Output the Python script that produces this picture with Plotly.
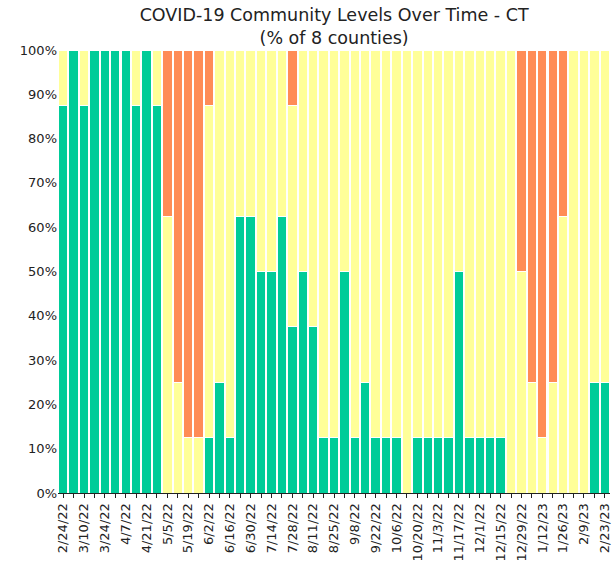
import plotly.graph_objects as go

dates = ["2/24/22","3/3/22","3/10/22","3/17/22","3/24/22","3/31/22","4/7/22","4/14/22","4/21/22","4/28/22",
         "5/5/22","5/12/22","5/19/22","5/26/22","6/2/22","6/9/22","6/16/22","6/23/22","6/30/22","7/7/22",
         "7/14/22","7/21/22","7/28/22","8/4/22","8/11/22","8/18/22","8/25/22","9/1/22","9/8/22","9/15/22",
         "9/22/22","9/29/22","10/6/22","10/13/22","10/20/22","10/27/22","11/3/22","11/10/22","11/17/22","11/24/22",
         "12/1/22","12/8/22","12/15/22","12/22/22","12/29/22","1/5/23","1/12/23","1/19/23","1/26/23","2/2/23",
         "2/9/23","2/16/23","2/23/23"]

n_counties = 8
# number of counties in each level
low = [7,8,7,8,8,8,8,7,8,7,
       0,0,0,0,1,2,1,5,5,4,
       4,5,3,4,3,1,1,4,1,2,
       1,1,1,0,1,1,1,1,4,1,
       1,1,1,0,0,0,0,0,0,0,
       0,2,2]
medium = [1,0,1,0,0,0,0,1,0,1,
          5,2,1,1,6,6,7,3,3,4,
          4,3,4,4,5,7,7,4,7,6,
          7,7,7,8,7,7,7,7,4,7,
          7,7,7,8,4,2,1,2,5,8,
          8,6,6]
high = [0,0,0,0,0,0,0,0,0,0,
        3,6,7,7,1,0,0,0,0,0,
        0,0,1,0,0,0,0,0,0,0,
        0,0,0,0,0,0,0,0,0,0,
        0,0,0,0,4,6,7,6,3,0,
        0,0,0]

x = list(range(len(dates)))
series = [("Low", low, "rgb(0,204,153)"),
          ("Medium", medium, "rgb(255,255,153)"),
          ("High", high, "rgb(255,140,86)")]

fig = go.Figure()
for name, vals, col in series:
    fig.add_trace(go.Bar(
        x=x, y=[v / n_counties for v in vals], name=name,
        marker=dict(color=col, line=dict(color="white", width=1)),
    ))

fig.update_layout(
    barmode="stack", bargap=0.1,
    width=612, height=564,
    margin=dict(l=58, r=2, t=50, b=71, autoexpand=False),
    plot_bgcolor="white", paper_bgcolor="white",
    showlegend=False,
    font=dict(family="DejaVu Sans", size=13, color="#222"),
    title=dict(text="COVID-19 Community Levels Over Time - CT<br>(% of 8 counties)",
               x=0.546, xanchor="center", y=1 - 21 / 564, yanchor="middle", yref="container",
               font=dict(size=17.5, color="#222"), automargin=False),
)
fig.update_xaxes(
    automargin=False,
    range=[-0.5, len(dates) - 0.5],
    tickmode="array", tickvals=x[::2], ticktext=dates[::2],
    tickangle=-90, ticks="outside", ticklen=4, tickcolor="#222",
    ticklabeloverflow="allow",
    showline=True, linecolor="#222", linewidth=1,
    showgrid=False, zeroline=False,
    minor=dict(ticks="outside", ticklen=4, tickcolor="#222", dtick=1, tick0=0, showgrid=False),
    tickfont=dict(size=13),
)
fig.update_yaxes(
    automargin=False,
    range=[0, 1], tickformat=".0%", dtick=0.1,
    showgrid=False, zeroline=False, showline=False, ticks="",
    tickfont=dict(size=13),
)
fig.write_html("out.html", config={"displayModeBar": False},
               post_script="document.body.style.margin='0';document.body.style.padding='0';")
